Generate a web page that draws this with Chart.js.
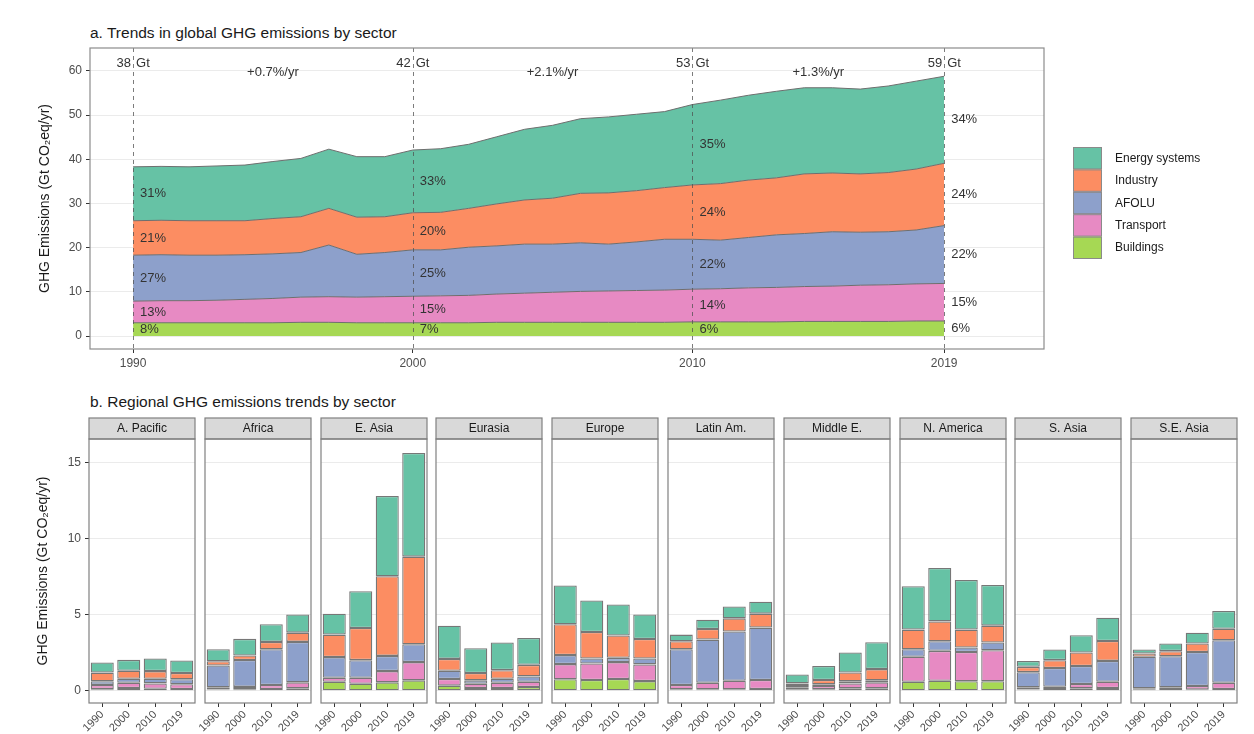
<!DOCTYPE html>
<html>
<head>
<meta charset="utf-8">
<script src="https://cdn.jsdelivr.net/npm/chart.js@4.4.1/dist/chart.umd.min.js"></script>
<style>
    body { margin: 0; background: #fff; width: 1254px; height: 734px; position: relative; overflow: hidden; font-family: 'Liberation Sans', Arial, sans-serif; }
    canvas { position: absolute; }
    .title { position: absolute; left: 90px; font-size: 15.5px; color: #1a1a1a; white-space: nowrap; }
</style>
</head>
<body>
<div class="title" style="top:24px">a. Trends in global GHG emissions by sector</div>
<div class="title" style="top:393px">b. Regional GHG emissions trends by sector</div>
<canvas id="topChart" width="1254" height="380" style="left:0;top:0"></canvas>

<script>
// ---- panel a: global emissions by sector (Gt CO2eq/yr) ----
const years = [1990, 1991, 1992, 1993, 1994, 1995, 1996, 1997, 1998, 1999,
               2000, 2001, 2002, 2003, 2004, 2005, 2006, 2007, 2008, 2009,
               2010, 2011, 2012, 2013, 2014, 2015, 2016, 2017, 2018, 2019];
const energy    = [12.2, 12.2, 12.2, 12.4, 12.6, 12.9, 13.2, 13.4, 13.7, 13.6, 14.2, 14.4, 14.5, 15.2, 16.0, 16.5, 16.9, 17.2, 17.3, 17.2, 18.2, 18.9, 19.2, 19.6, 19.5, 19.3, 19.2, 19.6, 19.9, 19.7];
const industry  = [7.8, 7.8, 7.8, 7.8, 7.7, 8.0, 8.1, 8.3, 8.4, 8.1, 8.4, 8.5, 8.8, 9.5, 10.0, 10.4, 11.2, 11.6, 11.6, 11.7, 12.3, 12.8, 13.0, 12.9, 13.5, 13.3, 13.2, 13.4, 13.8, 14.1];
const afolu     = [10.4, 10.4, 10.3, 10.2, 10.1, 10.1, 10.1, 11.7, 9.7, 10.0, 10.5, 10.4, 10.9, 10.9, 11.1, 10.9, 11.0, 10.6, 11.0, 11.5, 11.3, 11.0, 11.4, 11.9, 12.0, 12.3, 12.0, 12.0, 12.2, 13.1];
const transport = [4.9, 5.0, 5.0, 5.1, 5.3, 5.5, 5.7, 5.8, 5.8, 5.9, 6.0, 6.1, 6.2, 6.4, 6.6, 6.8, 7.0, 7.1, 7.2, 7.3, 7.4, 7.5, 7.7, 7.8, 7.9, 8.0, 8.2, 8.3, 8.4, 8.5];
const buildings = [3.0, 3.0, 3.0, 3.0, 3.0, 3.0, 3.1, 3.1, 3.0, 3.0, 3.0, 3.0, 3.0, 3.1, 3.1, 3.1, 3.1, 3.1, 3.1, 3.1, 3.2, 3.2, 3.2, 3.2, 3.3, 3.3, 3.3, 3.3, 3.4, 3.4];

const milestoneYears = [1990, 2000, 2010, 2019];
const totalLabels = ['38 Gt', '42 Gt', '53 Gt', '59 Gt'];
const rateLabels = ['+0.7%/yr', '+2.1%/yr', '+1.3%/yr'];
const energyShare    = ['31%', '33%', '35%', '34%'];
const industryShare  = ['21%', '20%', '24%', '24%'];
const afoluShare     = ['27%', '25%', '22%', '22%'];
const transportShare = ['13%', '15%', '14%', '15%'];
const buildingsShare = ['8%', '7%', '6%', '6%'];
const topYTicks = [0, 10, 20, 30, 40, 50, 60];

// ---- panel b: regional emissions, one row per region, 1990/2000/2010/2019 ----
const regions = ['A. Pacific', 'Africa', 'E. Asia', 'Eurasia', 'Europe', 'Latin Am.', 'Middle E.', 'N. America', 'S. Asia', 'S.E. Asia'];
const barYears = ['1990', '2000', '2010', '2019'];
const regEnergy = [
    [0.66, 0.72, 0.83, 0.83], [0.79, 1.09, 1.16, 1.20], [1.38, 2.42, 5.28, 6.82], [2.19, 1.63, 1.82, 1.77], [2.55, 2.08, 2.04, 1.62],
    [0.44, 0.61, 0.78, 0.78], [0.59, 0.92, 1.31, 1.77], [2.85, 3.52, 3.27, 2.68], [0.39, 0.70, 1.14, 1.53], [0.26, 0.50, 0.72, 1.16]];
const regIndustry = [
    [0.57, 0.52, 0.50, 0.41], [0.28, 0.30, 0.48, 0.61], [1.48, 2.11, 5.24, 5.76], [0.78, 0.48, 0.56, 0.76], [2.03, 1.74, 1.47, 1.28],
    [0.52, 0.70, 0.87, 0.92], [0.17, 0.28, 0.58, 0.74], [1.29, 1.31, 1.18, 1.11], [0.35, 0.52, 0.89, 1.31], [0.22, 0.33, 0.55, 0.76]];
const regAfolu = [
    [0.24, 0.27, 0.31, 0.33], [1.44, 1.77, 2.36, 2.66], [1.36, 1.16, 1.00, 1.18], [0.54, 0.22, 0.27, 0.35], [0.59, 0.33, 0.28, 0.39],
    [2.36, 2.84, 3.24, 3.45], [0.09, 0.11, 0.14, 0.13], [0.50, 0.63, 0.29, 0.51], [1.00, 1.23, 1.18, 1.37], [2.07, 2.05, 2.24, 2.80]];
const regTransport = [
    [0.28, 0.34, 0.35, 0.31], [0.14, 0.15, 0.26, 0.39], [0.26, 0.39, 0.74, 1.20], [0.44, 0.28, 0.34, 0.35], [1.00, 1.09, 1.11, 1.10],
    [0.28, 0.43, 0.56, 0.59], [0.15, 0.22, 0.32, 0.39], [1.64, 1.97, 1.93, 2.04], [0.14, 0.15, 0.28, 0.41], [0.10, 0.17, 0.24, 0.41]];
const regBuildings = [
    [0.10, 0.18, 0.13, 0.11], [0.08, 0.10, 0.11, 0.16], [0.59, 0.46, 0.55, 0.68], [0.33, 0.18, 0.18, 0.24], [0.75, 0.70, 0.77, 0.63],
    [0.09, 0.09, 0.09, 0.11], [0.07, 0.09, 0.16, 0.16], [0.59, 0.65, 0.62, 0.62], [0.08, 0.11, 0.16, 0.18], [0.06, 0.05, 0.07, 0.11]];
const barYTicks = [0, 5, 10, 15];

const FONT = "'Liberation Sans', Arial, sans-serif";
const Y_TITLE = 'GHG Emissions (Gt CO\u2082eq/yr)';

// stacking order bottom -> top
const sectors = [
    { label: 'Buildings', data: buildings, reg: regBuildings, share: buildingsShare, color: '#a6d854' },
    { label: 'Transport', data: transport, reg: regTransport, share: transportShare, color: '#e78ac3' },
    { label: 'AFOLU', data: afolu, reg: regAfolu, share: afoluShare, color: '#8da0cb' },
    { label: 'Industry', data: industry, reg: regIndustry, share: industryShare, color: '#fc8d62' },
    { label: 'Energy systems', data: energy, reg: regEnergy, share: energyShare, color: '#66c2a5' }
];

const topDecor = {
    id: 'topDecor',
    afterDatasetsDraw(chart) {
        const { ctx, chartArea: a, scales: { x, y } } = chart;
        ctx.save();

        // dashed markers at the milestone years
        ctx.setLineDash([4, 4]);
        ctx.strokeStyle = 'rgba(80,80,80,0.75)';
        ctx.lineWidth = 1;
        milestoneYears.forEach((yr) => {
            const px = Math.round(x.getPixelForValue(yr)) + 0.5;
            ctx.beginPath();
            ctx.moveTo(px, a.top);
            ctx.lineTo(px, a.bottom);
            ctx.stroke();
        });
        ctx.setLineDash([]);

        ctx.strokeStyle = '#8c8c8c';
        ctx.lineWidth = 1.2;
        ctx.strokeRect(a.left, a.top, a.right - a.left, a.bottom - a.top);

        ctx.fillStyle = '#333';
        ctx.font = '13px ' + FONT;
        ctx.textBaseline = 'middle';

        milestoneYears.forEach((yr, m) => {
            const px = x.getPixelForValue(yr);
            const idx = years.indexOf(yr);
            const parts = totalLabels[m].split(' ');
            ctx.textAlign = 'right';
            ctx.fillText(parts[0], px - 2, a.top + 15);
            ctx.textAlign = 'left';
            ctx.fillText(parts[1], px + 3, a.top + 15);

            // share labels in the middle of each band
            sectors.forEach((s, i) => {
                const top = chart.getDatasetMeta(i).data[idx].y;
                const bottom = i === 0 ? y.getPixelForValue(0) : chart.getDatasetMeta(i - 1).data[idx].y;
                ctx.fillText(s.share[m], px + 7, (top + bottom) / 2);
            });
        });

        ctx.textAlign = 'center';
        rateLabels.forEach((t, k) => {
            const px = x.getPixelForValue((milestoneYears[k] + milestoneYears[k + 1]) / 2);
            ctx.fillText(t, px, a.top + 24);
        });

        // legend
        const lx = a.right + 29;
        const ly = a.top + 99;
        ctx.font = '12px ' + FONT;
        ctx.textAlign = 'left';
        sectors.slice().reverse().forEach((s, k) => {
            const by = ly + k * 22.4;
            ctx.fillStyle = s.color;
            ctx.fillRect(lx, by, 29, 22.4);
            ctx.strokeStyle = '#8a8a8a';
            ctx.lineWidth = 1;
            ctx.strokeRect(lx + 0.5, by + 0.5, 28, 21.4);
            ctx.fillStyle = '#1a1a1a';
            ctx.fillText(s.label, lx + 42, by + 11.5);
        });
        ctx.restore();
    }
};

new Chart(document.getElementById('topChart'), {
    type: 'line',
    data: {
        datasets: sectors.map((s, i) => ({
            label: s.label,
            data: years.map((yr, k) => ({ x: yr, y: s.data[k] })),
            backgroundColor: s.color,
            borderColor: '#6e6e6e',
            borderWidth: 1,
            pointRadius: 0,
            tension: 0,
            fill: i === 0 ? 'origin' : '-1'
        }))
    },
    options: {
        responsive: false,
        animation: false,
        layout: { padding: { top: 48, right: 210 } },
        plugins: { legend: { display: false }, tooltip: { enabled: false } },
        scales: {
            x: {
                type: 'linear',
                min: 1988.46,
                max: 2022.57,
                afterBuildTicks: (s) => { s.ticks = milestoneYears.map((v) => ({ value: v })); },
                afterFit: (s) => { s.height = 31; },
                grid: { drawOnChartArea: false, tickLength: 4, tickColor: '#333' },
                border: { display: false },
                ticks: { color: '#4d4d4d', font: { family: FONT, size: 12 }, padding: 3, maxRotation: 0, callback: (v) => String(v) }
            },
            y: {
                stacked: true,
                min: -2.94,
                max: 65.2,
                afterBuildTicks: (s) => { s.ticks = topYTicks.map((v) => ({ value: v })); },
                afterFit: (s) => { s.width = 90; },
                grid: { color: '#ebebeb', tickLength: 4, tickColor: '#333' },
                border: { display: false },
                ticks: { color: '#4d4d4d', font: { family: FONT, size: 12 }, padding: 4 },
                title: { display: true, text: Y_TITLE, color: '#1a1a1a', font: { family: FONT, size: 14 }, padding: { top: 37 } }
            }
        }
    },
    plugins: [topDecor]
});

// ---- facets ----
const facetDecor = {
    id: 'facet',
    afterDraw(chart, args, opts) {
        const { ctx, chartArea: a } = chart;
        const w = a.right - a.left;
        ctx.save();
        ctx.fillStyle = '#d9d9d9';
        ctx.fillRect(a.left, a.top - 21, w, 21);
        ctx.strokeStyle = '#808080';
        ctx.lineWidth = 1.2;
        ctx.strokeRect(a.left, a.top - 21, w, 21);
        ctx.strokeRect(a.left, a.top, w, a.bottom - a.top);
        ctx.fillStyle = '#1a1a1a';
        ctx.font = '12px ' + FONT;
        ctx.textAlign = 'center';
        ctx.textBaseline = 'middle';
        ctx.fillText(opts.name, (a.left + a.right) / 2, a.top - 10);
        ctx.restore();
    }
};

regions.forEach((name, r) => {
    const first = r === 0;
    const left = Math.round(89 + r * 115.8);
    const cv = document.createElement('canvas');
    cv.width = first ? left + 106 + 8 : 106 + 16;
    cv.height = 318;
    cv.style.left = (first ? 0 : left - 8) + 'px';
    cv.style.top = '416px';
    document.body.appendChild(cv);

    new Chart(cv, {
        type: 'bar',
        data: {
            labels: barYears,
            datasets: sectors.map((s) => ({
                label: s.label,
                data: s.reg[r],
                backgroundColor: s.color,
                borderColor: '#777',
                borderWidth: 1.3,
                borderSkipped: false,
                barPercentage: 0.87,
                categoryPercentage: 1
            }))
        },
        options: {
            responsive: false,
            animation: false,
            layout: { padding: { top: 23, left: first ? 0 : 8, right: 8 } },
            plugins: { legend: { display: false }, tooltip: { enabled: false }, facet: { name: name } },
            scales: {
                x: {
                    stacked: true,
                    offset: true,
                    afterFit: (s) => { s.height = 31; s.paddingLeft = 0; s.paddingRight = 0; },
                    grid: { offset: false, drawOnChartArea: false, tickLength: 4, tickColor: '#333' },
                    border: { display: false },
                    ticks: {
                        autoSkip: false, minRotation: 45, maxRotation: 45, padding: 1,
                        color: '#4d4d4d', font: { family: FONT, size: 11 }
                    }
                },
                y: {
                    stacked: true,
                    min: -0.81,
                    max: 16.56,
                    afterBuildTicks: (s) => { s.ticks = barYTicks.map((v) => ({ value: v })); },
                    afterFit: (s) => { s.width = first ? left : 0; },
                    grid: { color: '#ebebeb', drawTicks: first, tickLength: 4, tickColor: '#333' },
                    border: { display: false },
                    ticks: { display: first, color: '#4d4d4d', font: { family: FONT, size: 12 }, padding: 4 },
                    title: { display: first, text: Y_TITLE, color: '#1a1a1a', font: { family: FONT, size: 14 }, padding: { top: 35 } }
                }
            }
        },
        plugins: [facetDecor]
    });
});
</script>
</body>
</html>
